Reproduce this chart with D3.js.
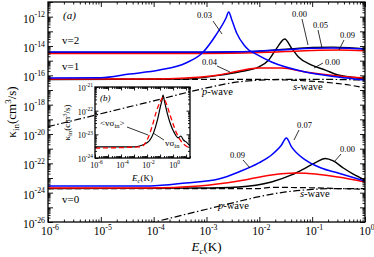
<!DOCTYPE html>
<html><head><meta charset="utf-8">
<script src="https://cdn.jsdelivr.net/npm/d3@7"></script>
<style>body{margin:0;background:#fff}svg{display:block}text{font-family:"Liberation Serif","Times New Roman",serif;fill:#000}</style>
</head><body><svg id="c" width="374" height="257"></svg>
<script>
// ---------- data (E in K, kappa in cm^3/s) ----------
const xTickExps = [-6,-5,-4,-3,-2,-1,0];
const yTickExps = [-12,-14,-16,-18,-20,-22,-24,-26];
const insetXTickExps = [-6,-4,-2,0];
const insetYTickExps = [-21,-22,-23,-24];

// v=2
const v2BlackE = [1e-6,1e-3,3.16e-3,0.01,0.0316,0.1,0.251,0.5,1];
const v2BlackK = [3.63e-15,3.63e-15,3.80e-15,4.47e-15,6.03e-15,7.94e-15,8.32e-15,7.59e-15,6.31e-15];
const v2BlueE  = [1e-6,1e-3,3.16e-3,0.01,0.0316,0.1,0.251,0.5,1];
const v2BlueK  = [3.89e-15,3.89e-15,3.98e-15,4.57e-15,5.62e-15,6.92e-15,7.24e-15,6.92e-15,6.03e-15];
const v2RedE   = [1e-6,1e-3,0.01,0.0316,0.1,0.316,1];
const v2RedK   = [3.09e-15,3.09e-15,3.55e-15,4.17e-15,4.90e-15,5.25e-15,4.79e-15];
// v=1
const v1BlueE  = [1e-6,1e-5,3.47e-5,1.29e-4,4.07e-4,8.3e-4,1.51e-3,2.34e-3,2.63e-3,3.02e-3,3.72e-3,5.13e-3,6.31e-3,8.5e-3,0.017,0.0741,0.309,1];
const v1BlueK  = [6.61e-17,6.92e-17,1.23e-16,2.29e-16,6.92e-16,3.31e-15,5.62e-14,8.13e-13,2.09e-12,5.89e-13,7.76e-14,1.17e-14,5.37e-15,2.88e-15,8.13e-16,1.70e-16,7.76e-17,4.79e-17];
const v1RedE   = [1e-6,1e-4,4.07e-4,1.7e-3,4.07e-3,9.8e-3,0.0263,0.0741,0.309,1];
const v1RedK   = [5.62e-17,5.62e-17,6.61e-17,1.05e-16,2.00e-16,3.16e-16,3.16e-16,1.70e-16,9.12e-17,6.61e-17];
const v1BlackE = [1e-6,4.07e-4,1.7e-3,4.07e-3,9.8e-3,0.0151,0.0214,0.0302,0.0407,0.055,0.0955,0.178,0.309,1];
const v1BlackK = [5.25e-17,5.62e-17,1.0e-16,1.70e-16,3.72e-16,1.12e-15,7.24e-15,3.02e-14,7.24e-15,1.78e-15,5.13e-16,2.29e-16,1.05e-16,6.03e-17];
const v1SwaveE = [1e-6,1e-3,0.01,0.0355,0.148,0.5,1];
const v1SwaveK = [5.25e-17,5.25e-17,5.25e-17,4.79e-17,3.55e-17,2.19e-17,1.38e-17];
const v1PwaveE = [1e-6,1e-5,1e-4,1e-3,3.16e-3,0.01,0.0316,0.1,1];
const v1PwaveK = [3.16e-20,2.40e-19,1.82e-18,1.38e-17,3.16e-17,4.68e-17,5.37e-17,5.37e-17,4.79e-17];
// v=0
const v0BlueE  = [1e-6,8.3e-5,4.07e-4,1.7e-3,4.07e-3,9.8e-3,0.017,0.0263,0.0324,0.0407,0.0741,0.148,0.309,1];
const v0BlueK  = [2.88e-24,2.88e-24,4.57e-24,8.51e-24,2.57e-23,1.07e-22,3.72e-22,1.78e-21,5.37e-21,1.32e-21,1.70e-22,4.79e-23,2.19e-23,6.31e-24];
const v0RedE   = [1e-6,8.3e-5,7.2e-4,4.07e-3,0.017,0.0479,0.115,0.309,1];
const v0RedK   = [2.09e-24,2.09e-24,2.88e-24,6.31e-24,1.62e-23,2.19e-23,1.91e-23,1.17e-23,5.37e-24];
const v0BlackE = [1e-6,7.2e-4,4.07e-3,0.017,0.0407,0.0741,0.12,0.178,0.251,0.389,0.589,1];
const v0BlackK = [1.91e-24,2.09e-24,2.45e-24,5.37e-24,1.62e-23,4.79e-23,1.23e-22,2.14e-22,1.45e-22,4.79e-23,1.91e-23,7.41e-24];
const v0SwaveE = [1e-6,0.01,0.017,0.0741,0.309,1];
const v0SwaveK = [1.91e-24,1.91e-24,2.29e-24,2.19e-24,1.91e-24,1.70e-24];
const v0PwaveE = [7.94e-5,1e-3,3.16e-3,0.01,0.0316,0.1,0.316,1];
const v0PwaveK = [7.94e-27,7.41e-26,2.04e-25,5.37e-25,1.12e-24,1.66e-24,1.91e-24,1.91e-24];
// inset (b)
const inBlackE = [1e-6,1e-3,0.01,0.0316,0.0631,0.1,0.141,0.17,0.224,0.355,0.631,1.26,2.51,3.98,6.31,10,20];
const inBlackK = [2.95e-24,2.95e-24,4.37e-24,1.15e-23,4.07e-23,1.29e-22,2.82e-22,4.57e-22,2.34e-22,7.94e-23,2.75e-23,1.15e-23,7.08e-24,8.51e-24,5.75e-24,4.79e-24,3.24e-24];
const inRedE   = [1e-6,3.16e-3,0.01,0.0251,0.0501,0.1,0.158,0.251,0.5,1,2,3.98,10,20];
const inRedK   = [2.63e-24,2.95e-24,5.75e-24,2.24e-23,8.71e-23,2.34e-22,3.47e-22,2.57e-22,8.71e-23,2.75e-23,1.02e-23,5.25e-24,3.24e-24,2.63e-24];

// ---------- drawing ----------
const svg = d3.select("#c");
const P = {l:48, r:365, t:2, b:222};
const x = d3.scaleLog().domain([1e-6,1]).range([P.l,P.r]);
const y = d3.scaleLog().domain([1e-26,1e-11]).range([P.b,P.t]);
const I = {l:95, r:190, t:87, b:158};
const xi = d3.scaleLog().domain([1e-6,20]).range([I.l,I.r]);
const yi = d3.scaleLog().domain([1e-24,1e-21]).range([I.b,I.t]);

const defs = svg.append("defs");
defs.append("clipPath").attr("id","cm").append("rect").attr("x",P.l).attr("y",P.t).attr("width",P.r-P.l).attr("height",P.b-P.t);
defs.append("clipPath").attr("id","ci").append("rect").attr("x",I.l).attr("y",I.t).attr("width",I.r-I.l).attr("height",I.b-I.t);

function pts(E,K){return E.map((e,i)=>[e,K[i]]);}
function drawLine(g,sx,sy,E,K,color,w,dash){
  const line = d3.line().x(d=>sx(d[0])).y(d=>sy(d[1])).curve(d3.curveMonotoneX);
  const p = g.append("path").datum(pts(E,K)).attr("d",line).attr("fill","none")
    .attr("stroke",color).attr("stroke-width",w).attr("stroke-linejoin","round");
  if(dash) p.attr("stroke-dasharray",dash);
}
function decades(lo,hi){
  const major=[],minor=[];
  for(let e=lo;e<=hi;e++){major.push(Math.pow(10,e)); for(let k=2;k<10;k++) minor.push(k*Math.pow(10,e));}
  return {major,minor};
}
function frameAxes(sx,sy,B,xr,yr,maj,mnr){
  const X = decades(xr[0],xr[1]), Y = decades(yr[0],yr[1]);
  const inX = v=>v>=sx.domain()[0]*0.999&&v<=sx.domain()[1]*1.001;
  const inY = v=>v>=sy.domain()[0]*0.999&&v<=sy.domain()[1]*1.001;
  const xm=X.major.filter(inX), xn=X.minor.filter(inX), ym=Y.major.filter(inY), yn=Y.minor.filter(inY);
  const specs=[
    [d3.axisBottom(sx),`translate(0,${B.b})`,xm,xn],
    [d3.axisTop(sx),`translate(0,${B.t})`,xm,xn],
    [d3.axisLeft(sy),`translate(${B.l},0)`,ym,yn],
    [d3.axisRight(sy),`translate(${B.r},0)`,ym,yn]];
  specs.forEach(([ax,tr,m,n])=>{
    [[m,maj],[n,mnr]].forEach(([vals,len])=>{
      const g=svg.append("g").attr("transform",tr)
        .call(ax.tickValues(vals).tickSize(-len).tickFormat(""));
      g.select(".domain").remove();
      g.selectAll("line").attr("stroke","#000").attr("stroke-width",0.9);
    });
  });
  svg.append("rect").attr("x",B.l).attr("y",B.t).attr("width",B.r-B.l).attr("height",B.b-B.t)
    .attr("fill","none").attr("stroke","#000").attr("stroke-width",1.3);
}
function powLabel(px,py,exp,fs,anchor){
  const t=svg.append("text").attr("x",px).attr("y",py).attr("text-anchor",anchor).attr("font-size",fs);
  t.append("tspan").text("10");
  t.append("tspan").attr("dy",-fs*0.45).attr("font-size",fs*0.68).text(exp);
}
function label(px,py,txt,fs,opts={}){
  const t=svg.append("text").attr("x",px).attr("y",py).attr("font-size",fs).text(txt);
  if(opts.italic) t.attr("font-style","italic");
  if(opts.anchor) t.attr("text-anchor",opts.anchor);
  return t;
}
function leader(x1,y1,x2,y2){
  svg.append("line").attr("x1",x1).attr("y1",y1).attr("x2",x2).attr("y2",y2).attr("stroke","#000").attr("stroke-width",0.8);
}
function waveLabel(px,py,letter,fs){
  const t=svg.append("text").attr("x",px).attr("y",py).attr("font-size",fs);
  t.append("tspan").attr("font-style","italic").text(letter);
  t.append("tspan").text("-wave");
}

// main curves
const gm = svg.append("g").attr("clip-path","url(#cm)");
const DASH="6,3", DASHDOT="7,2.5,1.5,2.5";
drawLine(gm,x,y,v1PwaveE,v1PwaveK,"#000",1.2,DASHDOT);
drawLine(gm,x,y,v0PwaveE,v0PwaveK,"#000",1.2,DASHDOT);
drawLine(gm,x,y,v1SwaveE,v1SwaveK,"#000",1.2,DASH);
drawLine(gm,x,y,v0SwaveE,v0SwaveK,"#000",1.2,DASH);
drawLine(gm,x,y,v2BlackE,v2BlackK,"#000",1.4);
drawLine(gm,x,y,v1BlackE,v1BlackK,"#000",1.4);
drawLine(gm,x,y,v0BlackE,v0BlackK,"#000",1.4);
drawLine(gm,x,y,v2RedE,v2RedK,"#ff0000",1.5);
drawLine(gm,x,y,v1RedE,v1RedK,"#ff0000",1.5);
drawLine(gm,x,y,v0RedE,v0RedK,"#ff0000",1.5);
drawLine(gm,x,y,v2BlueE,v2BlueK,"#0000ff",1.5);
drawLine(gm,x,y,v1BlueE,v1BlueK,"#0000ff",1.5);
drawLine(gm,x,y,v0BlueE,v0BlueK,"#0000ff",1.5);

frameAxes(x,y,P,[-6,0],[-26,-11],5,2.5);
xTickExps.forEach(e=>powLabel(x(Math.pow(10,e))+2,235,String(e),11.5,"middle"));
yTickExps.forEach(e=>powLabel(P.l-3,y(Math.pow(10,e))+6,String(e),11.5,"end"));

// axis titles
const xt=svg.append("text").attr("x",(P.l+P.r)/2).attr("y",251).attr("text-anchor","middle").attr("font-size",13);
xt.append("tspan").attr("font-style","italic").text("E");
xt.append("tspan").attr("dy",3).attr("font-size",9).attr("font-style","italic").text("c");
xt.append("tspan").attr("dy",-3).text("(K)");
const yt=svg.append("text").attr("transform",`translate(16,${(P.t+P.b)/2}) rotate(-90)`).attr("text-anchor","middle").attr("font-size",13);
yt.append("tspan").text("\u03ba");
yt.append("tspan").attr("dy",3).attr("font-size",9).text("in");
yt.append("tspan").attr("dy",-3).text("(cm");
yt.append("tspan").attr("dy",-5).attr("font-size",9).text("3");
yt.append("tspan").attr("dy",5).text("/s)");

// main annotations
label(63,19,"(a)",11,{italic:true});
label(62,44,"v=2",11); label(62,70,"v=1",11); label(62,203,"v=0",11);
const AF=8.5;
label(197,18,"0.03",AF); leader(213,21,222,34);
label(292,17,"0.00",AF); leader(302,19,308,45);
label(313,28,"0.05",AF); leader(318,30,322,48);
label(340,38,"0.09",AF); leader(344,40,339,50);
label(325,65,"0.00",AF); leader(323,63,314,68);
label(202,65,"0.04",AF); leader(217,66,230,72);
waveLabel(293,90,"s",10.5);
waveLabel(202,95,"p",10.5);
label(297,128,"0.07",AF); leader(299,130,294,140);
label(340,152,"0.00",AF); leader(341,154,334,162);
label(230,158,"0.09",AF); leader(243,160,250,168);
waveLabel(300,197,"s",10.5);
waveLabel(218,209,"p",10.5);

// inset
const gi = svg.append("g").attr("clip-path","url(#ci)");
drawLine(gi,xi,yi,inBlackE,inBlackK,"#000",1.2);
drawLine(gi,xi,yi,inRedE,inRedK,"#ff0000",1.3,"5,3");
frameAxes(xi,yi,I,[-6,1],[-24,-21],3.5,2);
insetXTickExps.forEach(e=>powLabel(xi(Math.pow(10,e))+1.5,168,String(e),8,"middle"));
insetYTickExps.forEach(e=>powLabel(I.l-2,yi(Math.pow(10,e))+4,String(e),8,"end"));
const ixt=svg.append("text").attr("x",(I.l+I.r)/2).attr("y",181).attr("text-anchor","middle").attr("font-size",9);
ixt.append("tspan").attr("font-style","italic").text("E");
ixt.append("tspan").attr("dy",2).attr("font-size",6.5).attr("font-style","italic").text("c");
ixt.append("tspan").attr("dy",-2).text("(K)");
const iyt=svg.append("text").attr("transform",`translate(70,${(I.t+I.b)/2}) rotate(-90)`).attr("text-anchor","middle").attr("font-size",9);
iyt.append("tspan").text("\u03ba");
iyt.append("tspan").attr("dy",2).attr("font-size",6.5).text("in");
iyt.append("tspan").attr("dy",-2).text("(cm");
iyt.append("tspan").attr("dy",-3.5).attr("font-size",6.5).text("3");
iyt.append("tspan").attr("dy",3.5).text("/s)");
label(100,101,"(b)",9,{italic:true});
const a1=svg.append("text").attr("x",100).attr("y",126).attr("font-size",9);
a1.append("tspan").text("<v\u03c3");
a1.append("tspan").attr("dy",2).attr("font-size",6.5).text("in");
a1.append("tspan").attr("dy",-2).text(">");
leader(127,127,148,135);
const a2=svg.append("text").attr("x",165).attr("y",146).attr("font-size",9);
a2.append("tspan").text("v\u03c3");
a2.append("tspan").attr("dy",2).attr("font-size",6.5).text("in");
leader(164,140,153,133);
</script></body></html>
